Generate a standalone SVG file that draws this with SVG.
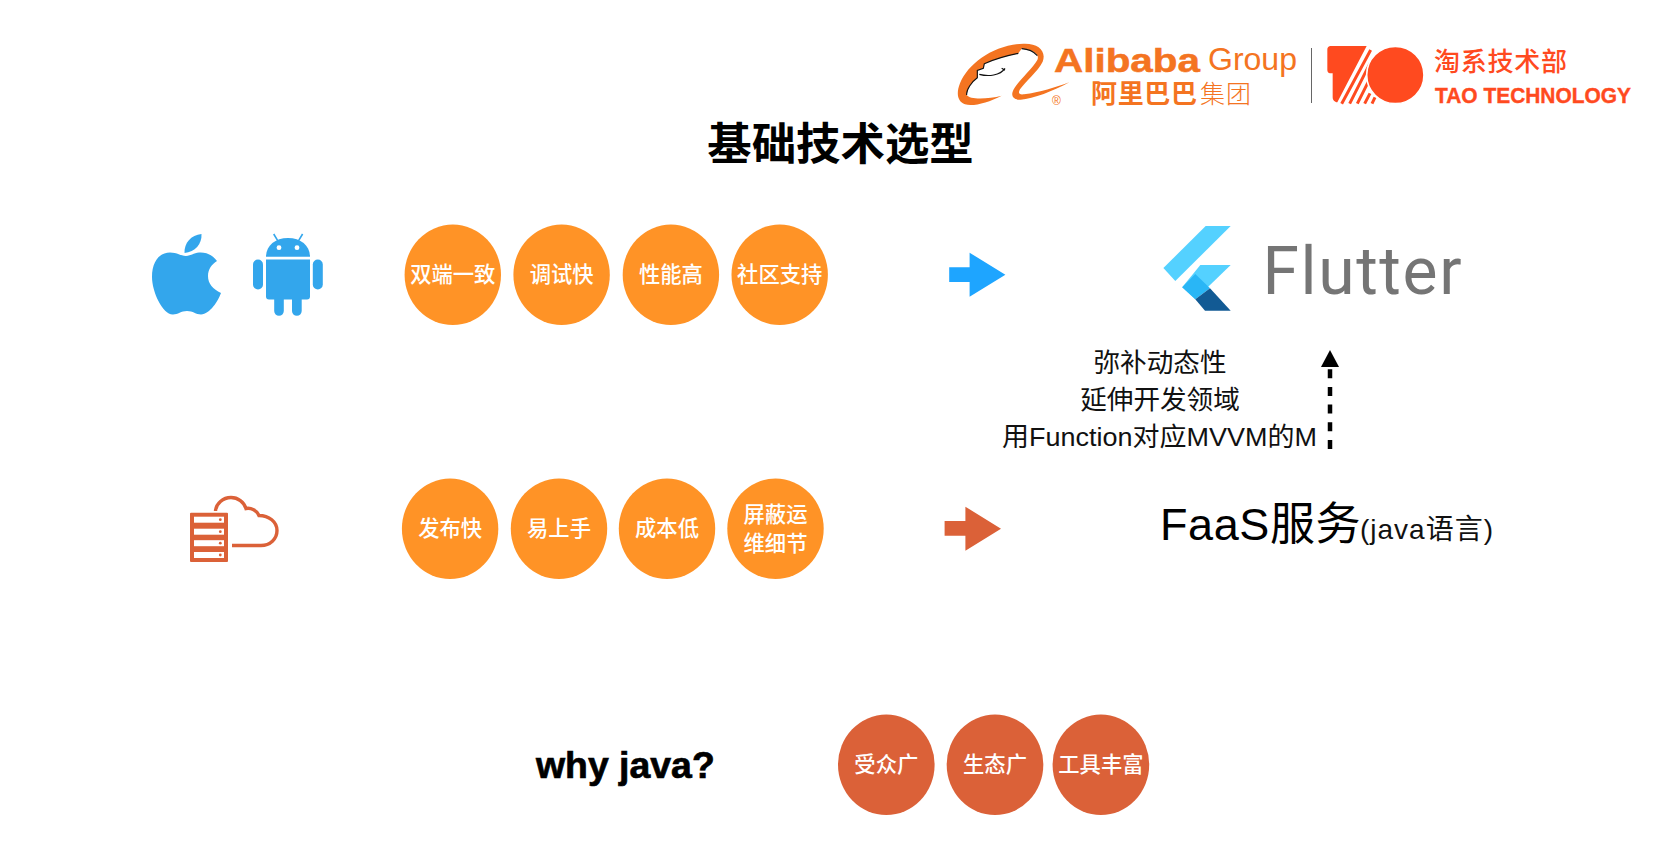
<svg xmlns="http://www.w3.org/2000/svg" width="1675" height="863" viewBox="0 0 1675 863">
<style>
text{font-family:"Liberation Sans","Noto Sans CJK SC",sans-serif}
.pill{font-size:21.3px;font-weight:500;fill:#fff;text-anchor:middle}
.or{fill:#FF9326}
.rd{fill:#DB6138}
.ic{fill:#33A6EC}
.note{font-size:26.6px;fill:#111;text-anchor:middle}
.al{fill:#F47421}
.tao{fill:#FF4A1F}
.stripe{stroke:#FF4A1F;stroke-width:9;fill:none}
</style>
<defs>
<marker id="head" markerUnits="userSpaceOnUse" markerWidth="18" markerHeight="18" refX="0" refY="9" orient="auto"><path d="M0 0L17 9L0 18Z" fill="#000"/></marker>
</defs>
<rect width="1675" height="863" fill="#fff"/>

<g id="alibaba-logo">
<g transform="translate(950 35) scale(.33333)">
<path class="al" d="M358 142C310 168 250 192 212 194C192 195 183 185 188 170C196 145 245 105 262 75C268 62 258 52 240 45L215 41L205 55C170 62 135 72 103 86L100 100L82 106L82 128C65 140 48 165 50 180C60 195 115 192 155 182C115 203 70 215 45 208C22 200 18 175 30 145C55 85 130 30 220 26C265 24 290 48 278 80C265 108 225 140 210 163C203 175 208 180 222 178C270 172 315 158 358 142Z"/>
<path d="M205 55C170 62 135 72 103 86L100 100L82 106L82 128C65 140 48 165 50 180M215 41C232 42 250 48 262 62M88 118C115 125 150 122 165 100M155 100L165 106" fill="none" stroke="#111" stroke-width="3.5"/>
</g>
<text class="al" x="1054" y="71.5" font-size="34" font-weight="700" stroke="#F47421" stroke-width=".5" textLength="146" lengthAdjust="spacingAndGlyphs">Alibaba</text>
<text class="al" x="1208" y="70" font-size="31" textLength="89" lengthAdjust="spacingAndGlyphs">Group</text>
<text class="al" x="1091" y="103" font-size="26" font-weight="700" textLength="106">阿里巴巴</text>
<text class="al" x="1200" y="103" font-size="25" font-weight="300" textLength="51">集团</text>
<text class="al" x="1052" y="105" font-size="12">®</text>
</g>

<g id="divider"><line x1="1311.5" y1="48" x2="1311.5" y2="103" stroke="#666" stroke-width="1"/></g>

<g id="tao-logo">
<g transform="translate(1320 40) scale(.33333)">
<path class="tao" d="M32 18H140L52 187C44 187 38 180 38 172V100H30C25 100 22 95 22 90V28C22 22 26 18 32 18Z"/>
<path class="stripe" d="M152 30L65 191M150 70L89 191M150 115L112 191M150 160L134 191M165 172L156 191"/>
<circle class="tao" cx="226" cy="105" r="86" stroke="#fff" stroke-width="5"/>
</g>
<text class="tao" x="1434" y="71" font-size="26" font-weight="500" textLength="133">淘系技术部</text>
<text class="tao" x="1435" y="103" font-size="22.5" font-weight="700" stroke="#FF4A1F" stroke-width=".4" textLength="196" lengthAdjust="spacingAndGlyphs">TAO TECHNOLOGY</text>
</g>

<g id="title"><text x="840.5" y="159.5" font-size="44.4" font-weight="700" text-anchor="middle" fill="#000">基础技术选型</text></g>

<g id="apple-icon">
<path class="ic" d="M186 256C181 256 177 252.5 170 252.5C159 252.5 152 262 152 277C152 292 163 315 173 314.5C178 314.5 181 311 187 311C193 311 196 314.5 201 314.5C210 314 218 301 221 293C213 289 208 284 208 276C208 269 212 264 217 261C212 254 205 252 199 252.5C194 253 190 256 186 256Z"/>
<path class="ic" d="M184.5 253C184 243 191 235 201.5 234C202 244 195 252 184.5 253Z"/>
</g>

<g id="android-icon">
<path class="ic" d="M266 256.7C266 246 275 238 288 238C301 238 310 246 310 256.7Z"/>
<path class="ic" d="M266 259.5H310V296.5Q310 299.5 307 299.5H301.7V311A4.8 4.8 0 0 1 292 311V299.5H283.8V311A4.8 4.8 0 0 1 274.2 311V299.5H269Q266 299.5 266 296.5Z"/>
<rect class="ic" x="253" y="259.5" width="10" height="30" rx="5"/>
<rect class="ic" x="312.8" y="259.5" width="10" height="30" rx="5"/>
<path d="M278.3 241.7L273.7 234M298 241.7L302.6 234" stroke="#33A6EC" stroke-width="1.6" fill="none"/>
<circle cx="279" cy="247.7" r="2.4" fill="#fff"/><circle cx="297" cy="247.7" r="2.4" fill="#fff"/>
</g>

<g id="tag-r1-1"><ellipse class="or" cx="452.8" cy="274.8" rx="48.2" ry="50.2"/><text class="pill" x="452.8" y="282">双端一致</text></g>
<g id="tag-r1-2"><ellipse class="or" cx="561.6" cy="274.8" rx="48.2" ry="50.2"/><text class="pill" x="561.6" y="282">调试快</text></g>
<g id="tag-r1-3"><ellipse class="or" cx="670.9" cy="274.8" rx="48.2" ry="50.2"/><text class="pill" x="670.9" y="282">性能高</text></g>
<g id="tag-r1-4"><ellipse class="or" cx="779.7" cy="274.8" rx="48.2" ry="50.2"/><text class="pill" x="779.7" y="282">社区支持</text></g>

<g id="flutter-logo" transform="translate(-2 0)">
<path fill="#54D1FF" d="M1165.4 268L1207.7 226H1232.7L1177.3 281Z"/>
<path fill="#54D1FF" d="M1232.7 265H1202.3L1184.2 287.3L1197.3 299.3Z"/>
<path fill="#29B6F6" d="M1184.2 287.3L1197.3 274L1212 288.3L1197.3 299.3Z"/>
<path fill="#125A94" d="M1197.3 299.3L1212 288.3L1232.7 310.7H1207Z"/>
<text x="1264.5" y="294" font-size="66" fill="#757575" style="font-family:Roboto,sans-serif" textLength="199" lengthAdjust="spacing">Flutter</text>
</g>

<g id="note">
<text class="note" x="1160" y="372">弥补动态性</text>
<text class="note" x="1160" y="409">延伸开发领域</text>
<text class="note" x="1159.5" y="445.5" textLength="315" lengthAdjust="spacingAndGlyphs">用Function对应MVVM的M</text>
</g>

<g id="cloud-server-icon">
<rect class="rd" x="190" y="512.7" width="38" height="49.3" rx="1"/>
<g fill="#fff"><rect x="194" y="516.7" width="30" height="6"/><rect x="194" y="528.7" width="30" height="6"/><rect x="194" y="540.2" width="30" height="6"/><rect x="194" y="552" width="30" height="6"/></g>
<g class="rd"><circle cx="220.3" cy="519.7" r="1.4"/><circle cx="220.3" cy="531.7" r="1.4"/><circle cx="220.3" cy="543.2" r="1.4"/><circle cx="220.3" cy="555" r="1.4"/></g>
<path d="M215.5 511C216 503.5 223 497.5 231 497.5C238 497.5 244 502 246 508.5C251 507.5 257 510.5 259 515.5C269 515.5 277 522 277 530.5C277 539 270 545.5 261 545.5L232 545.5" fill="none" stroke="#DB6138" stroke-width="3.4"/>
</g>

<g id="tag-r2-1"><ellipse class="or" cx="450.1" cy="528.8" rx="48.2" ry="50.2"/><text class="pill" x="450.1" y="536">发布快</text></g>
<g id="tag-r2-2"><ellipse class="or" cx="559" cy="528.8" rx="48.2" ry="50.2"/><text class="pill" x="559" y="536">易上手</text></g>
<g id="tag-r2-3"><ellipse class="or" cx="667" cy="528.8" rx="48.2" ry="50.2"/><text class="pill" x="667" y="536">成本低</text></g>
<g id="tag-r2-4"><ellipse class="or" cx="775.5" cy="528.8" rx="48.2" ry="50.2"/><text class="pill" x="775.5" y="522">屏蔽运</text><text class="pill" x="775.5" y="551">维细节</text></g>

<g id="faas">
<text x="1160" y="540" font-size="45" fill="#000" textLength="200.5" lengthAdjust="spacing">FaaS服务</text>
<text x="1360" y="539" font-size="28" fill="#111" textLength="133" lengthAdjust="spacing">(java语言)</text>
</g>

<g id="why-java"><text x="536" y="778" font-size="37.4" font-weight="700" fill="#000" stroke="#000" stroke-width=".7">why java?</text></g>
<g id="tag-r3-1"><ellipse class="rd" cx="886.3" cy="764.8" rx="48.3" ry="50.2"/><text class="pill" x="886.3" y="772">受众广</text></g>
<g id="tag-r3-2"><ellipse class="rd" cx="995" cy="764.8" rx="48.3" ry="50.2"/><text class="pill" x="995" y="772">生态广</text></g>
<g id="tag-r3-3"><ellipse class="rd" cx="1100.9" cy="764.8" rx="48.3" ry="50.2"/><text class="pill" x="1100.9" y="772">工具丰富</text></g>

<g id="connectors">
<path fill="#1EA5FF" d="M949.2 267.3H969.6V252.7L1005.4 274.7L969.6 296.7V282H949.2Z"/>
<path class="rd" d="M944.6 521H965.4V506.7L1001 528.7L965.4 550.7V535.7H944.6Z"/>
<line x1="1330" y1="449" x2="1330" y2="367" stroke="#000" stroke-width="4.5" stroke-dasharray="9 8.7" marker-end="url(#head)"/>
</g>
</svg>
